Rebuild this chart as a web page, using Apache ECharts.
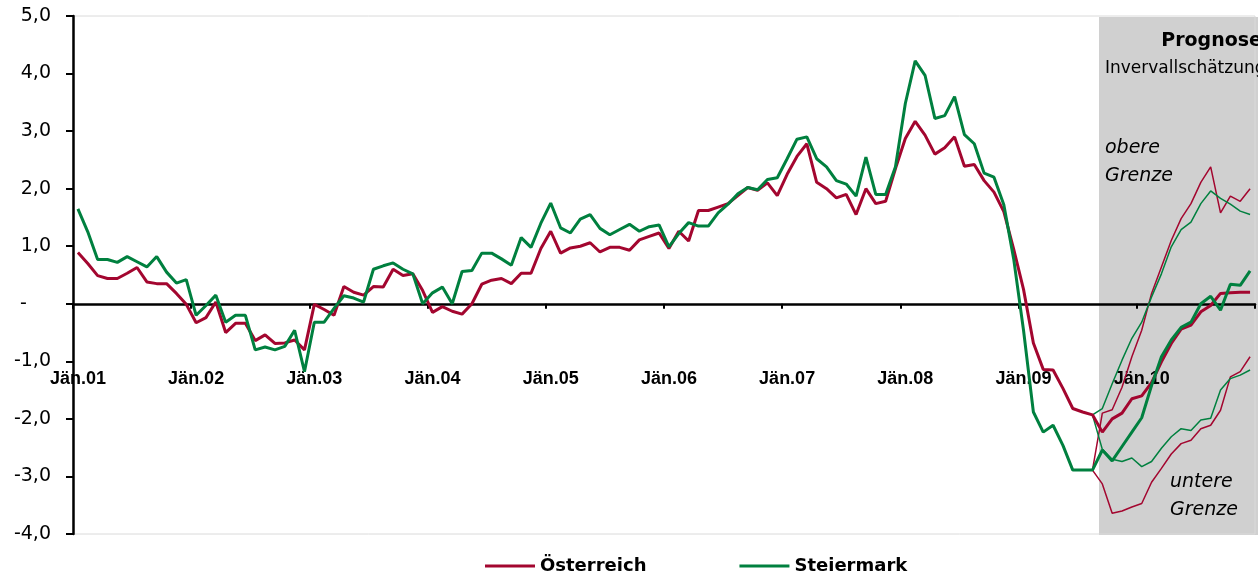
<!DOCTYPE html>
<html>
<head>
<meta charset="utf-8">
<script src="https://cdn.jsdelivr.net/npm/echarts@6/dist/echarts.min.js"></script>
<style>
html,body{margin:0;padding:0;background:#fff;}
#chart{width:1258px;height:576px;}
</style>
</head>
<body>
<div id="chart"></div>
<script>
// ---- Data ----
const years = ['01','02','03','04','05','06','07','08','09','10'];
const categories = [];
years.forEach(function (y) {
  for (let m = 1; m <= 12; m++) {
    categories.push(m === 1 ? 'Jän.' + y : m + '.' + y);
  }
});

const oesterreich = [
  0.89, 0.70, 0.49, 0.44, 0.44, 0.53, 0.63, 0.38, 0.35, 0.35, 0.18, -0.01,
  -0.33, -0.24, 0.03, -0.50, -0.34, -0.34, -0.64, -0.54, -0.69, -0.68, -0.63, -0.80,
  -0.01, -0.10, -0.20, 0.30, 0.20, 0.15, 0.30, 0.29, 0.60, 0.49, 0.52, 0.23,
  -0.15, -0.05, -0.13, -0.18, 0.00, 0.34, 0.41, 0.44, 0.35, 0.53, 0.53, 0.96,
  1.26, 0.88, 0.97, 1.00, 1.06, 0.90, 0.98, 0.98, 0.93, 1.11, 1.17, 1.23,
  0.96, 1.26, 1.09, 1.62, 1.62, 1.68, 1.74, 1.88, 2.02, 1.97, 2.10, 1.88,
  2.25, 2.56, 2.78, 2.11, 2.00, 1.84, 1.90, 1.55, 2.00, 1.74, 1.78, 2.35,
  2.87, 3.17, 2.93, 2.60, 2.71, 2.90, 2.39, 2.42, 2.14, 1.94, 1.60, 0.95,
  0.25, -0.68, -1.14, -1.15, -1.47, -1.82, -1.88, -1.93, -2.23, -2.00, -1.90, -1.65,
  -1.60, -1.37, -1.01, -0.69, -0.44, -0.37, -0.14, -0.03, 0.18, 0.19, 0.20, 0.20
];

const steiermark = [
  1.65, 1.25, 0.77, 0.77, 0.72, 0.82, 0.73, 0.64, 0.82, 0.55, 0.36, 0.42,
  -0.20, -0.03, 0.15, -0.32, -0.20, -0.20, -0.80, -0.75, -0.80, -0.74, -0.46, -1.18,
  -0.32, -0.32, -0.08, 0.14, 0.10, 0.03, 0.60, 0.66, 0.71, 0.60, 0.52, 0.00,
  0.19, 0.29, 0.00, 0.56, 0.58, 0.88, 0.88, 0.78, 0.67, 1.15, 0.98, 1.40,
  1.75, 1.32, 1.23, 1.47, 1.55, 1.31, 1.20, 1.29, 1.38, 1.26, 1.34, 1.37,
  0.99, 1.22, 1.41, 1.35, 1.35, 1.58, 1.73, 1.91, 2.02, 1.98, 2.16, 2.19,
  2.52, 2.86, 2.90, 2.52, 2.38, 2.14, 2.08, 1.87, 2.55, 1.90, 1.90, 2.38,
  3.48, 4.22, 3.97, 3.22, 3.27, 3.60, 2.94, 2.78, 2.27, 2.20, 1.72, 0.78,
  -0.46, -1.88, -2.23, -2.11, -2.46, -2.89, -2.89, -2.89, -2.54, -2.73, -2.48, -2.23,
  -1.98, -1.42, -0.92, -0.63, -0.41, -0.32, 0.00, 0.13, -0.11, 0.34, 0.32, 0.57
];

// forecast interval bounds, months 104..120 (index 103..119)
const boundStart = 103;
const oeUpper = [-2.89, -1.90, -1.84, -1.45, -0.92, -0.46, 0.18, 0.64, 1.10, 1.48, 1.74, 2.11, 2.38, 1.58, 1.87, 1.78, 2.00];
const oeLower = [-2.89, -3.13, -3.64, -3.60, -3.53, -3.47, -3.10, -2.86, -2.61, -2.43, -2.37, -2.17, -2.11, -1.85, -1.27, -1.18, -0.92];
const stUpper = [-1.93, -1.82, -1.39, -0.98, -0.60, -0.32, 0.12, 0.52, 0.99, 1.29, 1.42, 1.74, 1.96, 1.83, 1.73, 1.61, 1.55];
const stLower = [-1.93, -2.53, -2.70, -2.74, -2.68, -2.83, -2.74, -2.51, -2.31, -2.17, -2.20, -2.02, -1.99, -1.50, -1.30, -1.24, -1.15];

const yTicks = { min: -4, max: 5, step: 1 };

// ---- Helpers ----
function padBound(arr) {
  const out = new Array(categories.length).fill(null);
  arr.forEach(function (v, i) { out[boundStart + i] = v; });
  return out;
}
const RED = '#A3062F';
const GREEN = '#00803F';
const AX = 'DejaVu Sans';

const chart = echarts.init(document.getElementById('chart'), null, { renderer: 'canvas' });

const option = {
  animation: false,
  backgroundColor: '#ffffff',
  grid: {
    left: 73, right: 3, top: 16, bottom: 42,
    containLabel: false, outerBoundsMode: 'none',
    show: true, borderColor: '#DADADA', borderWidth: 1, backgroundColor: 'transparent'
  },
  legend: {
    left: 480, top: 552,
    data: ['Österreich', 'Steiermark'],
    icon: 'rect', itemWidth: 50, itemHeight: 3, itemGap: 93,
    textStyle: { fontFamily: AX, fontWeight: 'bold', fontSize: 18, color: '#000' }
  },
  xAxis: [
    {
      type: 'category',
      data: categories,
      boundaryGap: true,
      axisLine: { onZero: true, lineStyle: { color: '#000', width: 2.5 } },
      axisTick: { show: true, interval: 11, length: 5, lineStyle: { color: '#000', width: 2 } },
      axisLabel: { show: false },
      splitLine: { show: false }
    },
    {
      type: 'category',
      data: categories,
      boundaryGap: true,
      position: 'bottom',
      offset: -172,
      axisLine: { show: false },
      axisTick: { show: false },
      axisLabel: {
        interval: 11, margin: 8, hideOverlap: false,
        fontFamily: 'Liberation Sans', fontWeight: 'bold', fontSize: 18, color: '#000'
      },
      splitLine: { show: false }
    }
  ],
  yAxis: {
    type: 'value',
    min: yTicks.min, max: yTicks.max, interval: yTicks.step,
    axisLine: { show: true, onZero: false, lineStyle: { color: '#000', width: 2.5 } },
    axisTick: { show: true, length: 7, lineStyle: { color: '#000', width: 2 } },
    axisLabel: {
      margin: 22, fontFamily: AX, fontSize: 19, color: '#000',
      formatter: function (v) {
        if (v === 0) return '-    ';
        return v.toFixed(1).replace('.', ',');
      }
    },
    splitLine: { show: false }
  },
  graphic: [
    { type: 'text', right: -4, top: 32, z: 50,
      style: { text: 'Prognose', font: 'bold 19px "DejaVu Sans"', fill: '#000' } },
    { type: 'text', left: 1105, top: 60, z: 50,
      style: { text: 'Invervallschätzung', font: '17px "DejaVu Sans"', fill: '#000' } },
    { type: 'text', left: 1105, top: 139, z: 50,
      style: { text: 'obere', font: 'italic 19px "DejaVu Sans"', fill: '#000' } },
    { type: 'text', left: 1105, top: 167, z: 50,
      style: { text: 'Grenze', font: 'italic 19px "DejaVu Sans"', fill: '#000' } },
    { type: 'text', left: 1170, top: 473, z: 50,
      style: { text: 'untere', font: 'italic 19px "DejaVu Sans"', fill: '#000' } },
    { type: 'text', left: 1170, top: 501, z: 50,
      style: { text: 'Grenze', font: 'italic 19px "DejaVu Sans"', fill: '#000' } }
  ],
  series: [
    {
      name: 'shade', type: 'line', data: [], z: -5, silent: true,
      markArea: {
        silent: true, z: -5,
        itemStyle: { color: '#D0D0D0' },
        data: [[{ x: 1099, y: 17 }, { x: 1258, y: 535 }]]
      }
    },
    { name: 'Österreich obere', type: 'line', data: padBound(oeUpper), symbol: 'none',
      lineStyle: { color: RED, width: 1.5 }, itemStyle: { color: RED }, z: 3 },
    { name: 'Österreich untere', type: 'line', data: padBound(oeLower), symbol: 'none',
      lineStyle: { color: RED, width: 1.5 }, itemStyle: { color: RED }, z: 3 },
    { name: 'Steiermark obere', type: 'line', data: padBound(stUpper), symbol: 'none',
      lineStyle: { color: GREEN, width: 1.5 }, itemStyle: { color: GREEN }, z: 3 },
    { name: 'Steiermark untere', type: 'line', data: padBound(stLower), symbol: 'none',
      lineStyle: { color: GREEN, width: 1.5 }, itemStyle: { color: GREEN }, z: 3 },
    { name: 'Österreich', type: 'line', data: oesterreich, symbol: 'none',
      lineStyle: { color: RED, width: 3 }, itemStyle: { color: RED }, z: 4 },
    { name: 'Steiermark', type: 'line', data: steiermark, symbol: 'none',
      lineStyle: { color: GREEN, width: 3 }, itemStyle: { color: GREEN }, z: 5 }
  ]
};
chart.setOption(option);
</script>
</body>
</html>
